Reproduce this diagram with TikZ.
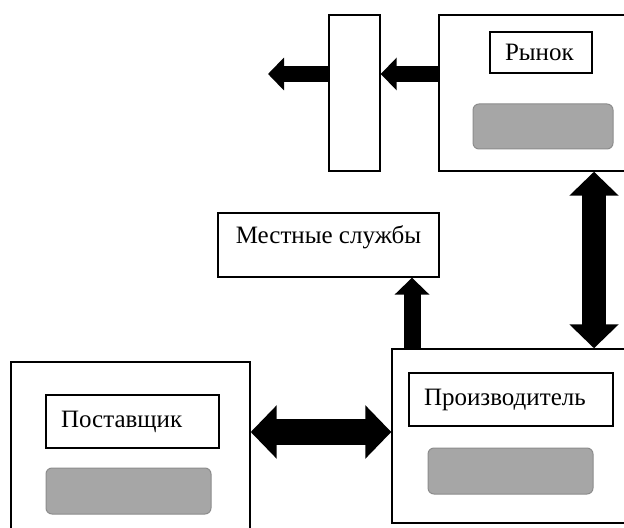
\documentclass[tikz,border=0pt]{standalone}
\usepackage{fontspec}
\setmainfont{Liberation Serif}
\usetikzlibrary{arrows.meta}
\definecolor{panelgrey}{HTML}{A6A6A6}
\definecolor{panelrim}{HTML}{8C8C8C}

\begin{document}
\begin{tikzpicture}[x=0.5pt,y=-0.5pt,
  font=\fontsize{12.5}{15}\selectfont,
  frame/.style={draw,line width=0.7pt,inner sep=0pt},
  tag/.style={draw,line width=0.6pt,inner xsep=7.5pt,inner ysep=0pt,align=left},
  slot/.style={draw=panelrim,fill=panelgrey,rounded corners=3pt,line width=0.5pt,inner sep=0pt},
  fat/.style={line width=#1,-{Triangle[length=0pt 1,width=0pt 2]}},
  fatboth/.style={line width=#1,{Triangle[length=0pt 1,width=0pt 2]}-{Triangle[length=0pt 1,width=0pt 2]}}]
  \clip (0,0) rectangle (624,528);
  % market and the gate in front of it
  \node[frame,minimum width=105.5pt,minimum height=78pt] (market) at (544.5,93) {};
  \node[frame,minimum width=25.5pt,minimum height=78pt] (gate) at (354.5,93) {};
  \node[tag,text width=36pt,minimum height=20.5pt] (marketlbl) at (541,52.5) {Рынок};
  \node[slot,minimum width=70pt,minimum height=22.5pt] (marketslot) at (543,126.5) {};
  % local services
  \node[frame,minimum width=110.5pt,minimum height=32pt,text height=9pt,text depth=10pt] (services) at (328.5,245) {Местные службы};
  % producer
  \node[frame,minimum width=129pt,minimum height=87pt] (producer) at (521,436) {};
  \node[tag,text width=87pt,minimum height=26.5pt] (producerlbl) at (511,399.5) {Производитель};
  \node[slot,minimum width=82.5pt,minimum height=23pt] (producerslot) at (510.5,471) {};
  % supplier
  \node[frame,minimum width=119.5pt,minimum height=91.5pt] (supplier) at (130.5,453.5) {};
  \node[tag,text width=71.5pt,minimum height=26.5pt] (supplierlbl) at (132.5,421.5) {Поставщик};
  \node[slot,minimum width=82.5pt,minimum height=23pt] (supplierslot) at (128.5,491) {};
  % arrows
  \coordinate (exit) at (268,74);
  \draw[fat=8pt] (market.west |- 0,74) -- (gate.east |- 0,74);
  \draw[fat=8pt] (gate.west |- 0,74) -- (exit);
  \draw[fatboth=12pt] (594,0 |- market.south) -- (594,0 |- producer.north);
  \draw[fat=8.5pt] (412,0 |- producer.north) -- (412,0 |- services.south);
  \draw[fatboth=13pt] (supplier.east |- 0,432) -- (producer.west |- 0,432);
\end{tikzpicture}
\end{document}
